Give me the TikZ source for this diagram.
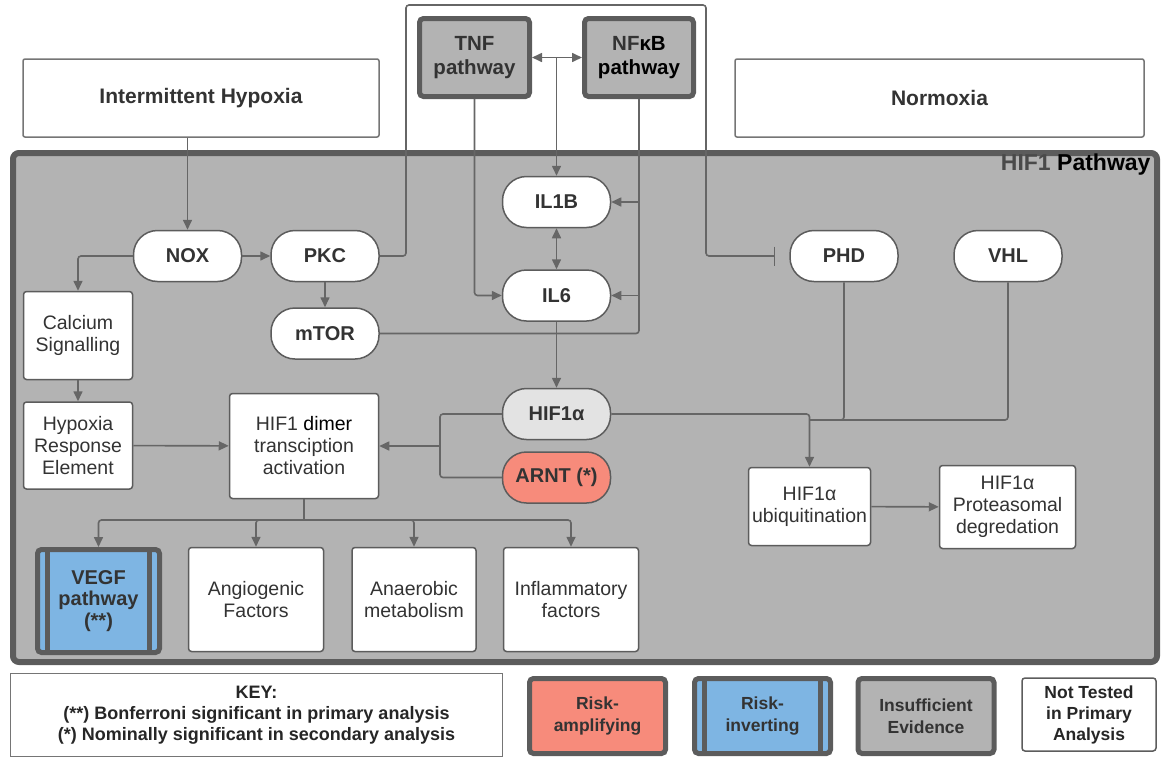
\documentclass[tikz,border=0pt]{standalone}
\usepackage{fontspec}
\setmainfont{Liberation Sans}
\usetikzlibrary{arrows.meta,positioning}
\definecolor{panel}{HTML}{B3B3B3}
\definecolor{rim}{HTML}{5C5C5C}
\definecolor{wire}{HTML}{666666}
\definecolor{ink}{HTML}{333333}
\definecolor{salmon}{HTML}{F78B7B}
\definecolor{skyblue}{HTML}{7EB5E3}
\definecolor{pale}{HTML}{E3E3E3}

\begin{document}
\begin{tikzpicture}[x=1pt,y=-1pt,
    pill/.style={draw=rim,line width=1.5pt,fill=white,rounded corners=24pt,minimum width=108pt,minimum height=51pt,inner sep=0pt,text=ink,font=\bfseries\fontsize{20}{22}\selectfont},
    plainbox/.style={draw=rim,line width=1.5pt,fill=white,rounded corners=3pt,inner sep=0pt,align=center,text=ink,font=\fontsize{19.5}{22}\selectfont},
    outbox/.style={draw=wire!90,line width=1.5pt,fill=white,rounded corners=2pt,inner sep=0pt,text=ink,font=\bfseries\fontsize{21}{23}\selectfont},
    heavybox/.style={draw=rim,line width=5pt,rounded corners=4pt,inner sep=0pt,align=center,text=ink,font=\bfseries\fontsize{20.5}{24}\selectfont},
    legendbox/.style={heavybox,minimum width=136pt,minimum height=75pt,font=\bfseries\fontsize{17.5}{22}\selectfont},
    bars/.style={draw=rim,line width=5pt},
    link/.style={draw=wire,line width=1.6pt,rounded corners=3pt},
    arr/.style={link,-{Triangle[length=10pt,width=9pt]}},
    twoway/.style={link,{Triangle[length=10pt,width=9pt]}-{Triangle[length=10pt,width=9pt]}}]
  \useasboundingbox (0,0) rectangle (1162,758);

  % HIF1 pathway panel
  \node[draw=rim,line width=6pt,fill=panel,rounded corners=6pt,minimum width=1144pt,minimum height=509pt] (panel) at (585,407.5) {};
  \node[anchor=east,font=\bfseries\fontsize{23}{25}\selectfont] (title) at (1154,165) {\textcolor{rim!80!black}{HIF1} Pathway};

  % outside the panel
  \node[outbox,minimum width=356pt,minimum height=78pt] (hypoxia)  at (201,98)   {Intermittent Hypoxia};
  \node[outbox,minimum width=409pt,minimum height=78pt] (normoxia) at (939.5,98) {Normoxia};
  \node[heavybox,fill=panel,minimum width=110pt,minimum height=78pt] (tnf)  at (474.5,57.5) {TNF\\pathway};
  \node[heavybox,fill=panel,minimum width=109pt,minimum height=78pt] (nfkb) at (639,57.5)   {NF\textcolor{black}{κB}\\\textcolor{black}{pathway}};

  % inside the panel
  \node[pill] (nox)  at (187.5,256) {NOX};
  \node[pill] (pkc)  [right=28pt of nox] {PKC};
  \node[pill] (mtor) [below=25pt of pkc] {mTOR};
  \node[pill] (il1b) at (556.5,202) {IL1B};
  \node[pill] (il6)  [below=41pt of il1b] {IL6};
  \node[pill,fill=pale] (hif1a) at (556.5,414) {HIF1α};
  \node[pill,fill=salmon] (arnt) [below=11pt of hif1a] {ARNT (*)};
  \node[pill] (phd)  at (844,256)  {PHD};
  \node[pill] (vhl)  at (1008,256) {VHL};

  \node[plainbox,minimum width=109pt,minimum height=88pt] (calcium) at (78,335.5) {Calcium\\Signalling};
  \node[plainbox,minimum width=109pt,minimum height=87pt] (hre) [below=21pt of calcium] {Hypoxia\\Response\\Element};
  \node[plainbox,minimum width=149pt,minimum height=105pt] (dimer) at (304,446) {HIF1 \textcolor{black}{dimer}\\transciption\\activation};

  \node[heavybox,fill=skyblue,minimum width=122pt,minimum height=103pt,font=\bfseries\fontsize{20}{21.5}\selectfont] (vegf) at (98.5,601) {VEGF\\pathway\\(**)};
  \draw[bars] ([xshift=12.5pt]vegf.north west) -- ([xshift=12.5pt]vegf.south west);
  \draw[bars] ([xshift=-12.5pt]vegf.north east) -- ([xshift=-12.5pt]vegf.south east);
  \node[plainbox,minimum width=135pt,minimum height=104pt] (angio)  at (256,599.5) {Angiogenic\\Factors};
  \node[plainbox,minimum width=124pt,minimum height=104pt] (anaer)  at (414,599.5) {Anaerobic\\metabolism};
  \node[plainbox,minimum width=135pt,minimum height=104pt] (inflam) at (571,599.5) {Inflammatory\\factors};

  \node[plainbox,minimum width=122pt,minimum height=78pt] (ubiq) at (809.5,506.5) {HIF1α\\ubiquitination};
  \node[plainbox,minimum width=136pt,minimum height=83pt] (prot) at (1007.5,507) {HIF1α\\Proteasomal\\degredation};

  % key
  \node[draw=wire!90,line width=1.5pt,fill=white,minimum width=492pt,minimum height=83pt,align=center,text=black!85,font=\bfseries\fontsize{18}{21}\selectfont] (key) at (256.5,715)
    {KEY:\\(**) Bonferroni significant in primary analysis\\(*) Nominally significant in secondary analysis};
  \node[legendbox,fill=salmon] (amp)   at (597.5,716) {Risk-\\amplifying};
  \node[legendbox,fill=skyblue] (inv)  at (762.5,716) {Risk-\\inverting};
  \draw[bars] ([xshift=12.5pt]inv.north west) -- ([xshift=12.5pt]inv.south west);
  \draw[bars] ([xshift=-12.5pt]inv.north east) -- ([xshift=-12.5pt]inv.south east);
  \node[legendbox,fill=panel] (insuf)  at (926,716) {Insufficient\\Evidence};
  \node[plainbox,minimum width=134pt,minimum height=73pt,text=black!85,font=\bfseries\fontsize{17.5}{21}\selectfont] (nottest) at (1089,714.5) {Not Tested\\in Primary\\Analysis};

  % connectors
  \coordinate (loopL) at (406,5);
  \coordinate (loopR) at (706,5);
  \draw[link,-{Bar[width=19pt]},shorten >=14pt] (pkc.east) -| (loopL) -- (loopR) |- (phd.west);
  \draw[twoway] (tnf.east) -- (nfkb.west);
  \draw[arr] (il1b.north |- tnf.east) -- (il1b.north);
  \draw[arr] (tnf.south) |- (il6.west);
  \draw[link] (nfkb.south) |- (mtor.east);
  \draw[arr] (nfkb.south |- il1b.east) -- (il1b.east);
  \draw[arr] (nfkb.south |- il6.east) -- (il6.east);
  \draw[twoway] (il1b) -- (il6);
  \draw[arr] (il6) -- (hif1a);

  \draw[arr] (nox.north |- hypoxia.south) -- (nox);
  \draw[arr] (nox) -- (pkc);
  \draw[arr] (pkc) -- (mtor);
  \draw[arr] (nox.west) -| (calcium.north);
  \draw[arr] (calcium) -- (hre);
  \draw[arr] (hre) -- (dimer);

  \coordinate (hj) at (440,446);
  \draw[link] (hif1a.west) -| (hj) |- (arnt.west);
  \draw[arr] (hj) -- (dimer.east);
  \coordinate (dj) at (304,520);
  \draw[link] (dimer.south) -- (dj);
  \foreach \n in {vegf,angio,anaer,inflam}
    \draw[arr] (dj) -| (\n.north);

  \coordinate (uj) at (809.5,420);
  \draw[arr] (hif1a.east) -| (ubiq.north);
  \draw[link] (phd.south) |- (uj);
  \draw[link] (vhl.south) |- (uj);
  \draw[arr] (ubiq) -- (prot);
\end{tikzpicture}
\end{document}
